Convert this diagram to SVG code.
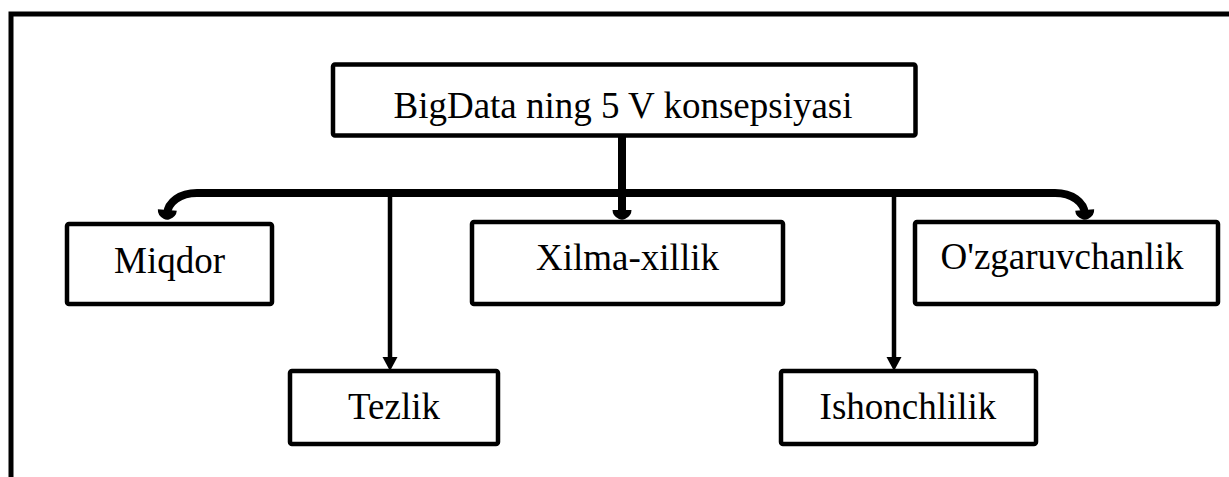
<svg xmlns="http://www.w3.org/2000/svg" width="1229" height="477" viewBox="0 0 1229 477">
<style>
.box{fill:#fff;stroke:#000;stroke-width:4.5}
.lbl{font-family:"Liberation Serif","Times New Roman",serif;font-size:37px;fill:#000;text-anchor:middle}
.thick{fill:none;stroke:#000;stroke-width:8}
.thin{fill:none;stroke:#000;stroke-width:4.5}
</style>
<defs>
<marker id="blob" markerUnits="userSpaceOnUse" markerWidth="30" markerHeight="30" refX="0" refY="0" orient="auto" overflow="visible">
<path d="M -4 -9.5 Q 2 -9.5 5 -3 Q 6.5 0 5 3 Q 2 9.5 -4 9.5 Z" fill="#000"/>
</marker>
<marker id="tri" markerUnits="userSpaceOnUse" markerWidth="30" markerHeight="30" refX="0" refY="0" orient="auto" overflow="visible">
<path d="M -3 -7.5 L 11 0 L -3 7.5 Z" fill="#000"/>
</marker>
</defs>
<rect width="1229" height="477" fill="#fff"/>
<path d="M 11 477 V 14 H 1229" fill="none" stroke="#000" stroke-width="5"/>
<g id="connectors">
<path class="thick" d="M 622 135 V 214" marker-end="url(#blob)"/>
<path class="thick" d="M 622 193 H 197 C 180 193 168 202 167 214" marker-end="url(#blob)"/>
<path class="thick" d="M 622 193 H 1055 C 1072 193 1084 202 1085 214" marker-end="url(#blob)"/>
<path class="thin" d="M 390 193 V 360" marker-end="url(#tri)"/>
<path class="thin" d="M 894 193 V 360" marker-end="url(#tri)"/>
</g>
<g id="node-root">
<rect class="box" x="333" y="64.5" width="582.5" height="71" rx="2"/>
<text class="lbl" x="623" y="118">BigData ning 5 V konsepsiyasi</text>
</g>
<g id="node-miqdor">
<rect class="box" x="67" y="224" width="205" height="80" rx="2"/>
<text class="lbl" x="169.5" y="273">Miqdor</text>
</g>
<g id="node-xilma">
<rect class="box" x="472" y="222" width="311" height="82" rx="2"/>
<text class="lbl" x="627.5" y="270">Xilma-xillik</text>
</g>
<g id="node-ozgaruvchanlik">
<rect class="box" x="915" y="222" width="303" height="82" rx="2"/>
<text class="lbl" x="1062" y="269">O'zgaruvchanlik</text>
</g>
<g id="node-tezlik">
<rect class="box" x="290" y="371" width="208" height="73" rx="2"/>
<text class="lbl" x="394" y="419">Tezlik</text>
</g>
<g id="node-ishonchlilik">
<rect class="box" x="781" y="371" width="255" height="73" rx="2"/>
<text class="lbl" x="908" y="419">Ishonchlilik</text>
</g>
</svg>
